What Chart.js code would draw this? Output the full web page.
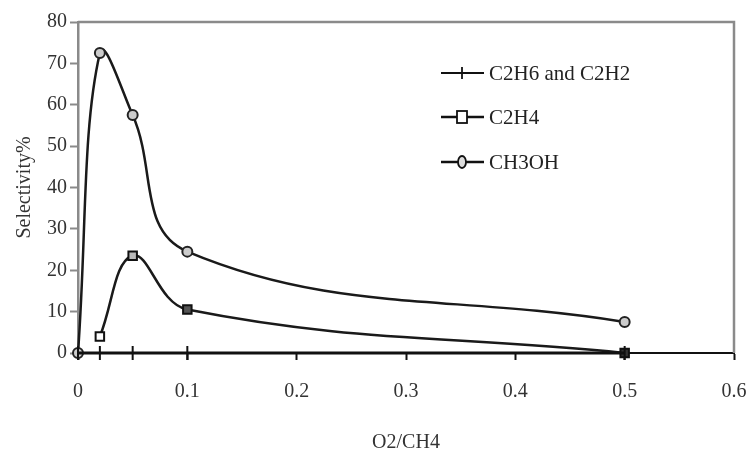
<!DOCTYPE html>
<html lang="en">
<head>
  <meta charset="UTF-8" />
  <title>Selectivity vs O2/CH4</title>
  <script src="https://cdn.jsdelivr.net/npm/chart.js"></script>
  <style>
    html, body { margin: 0; padding: 0; background: #fff; }
    .chart-container { width: 751px; height: 455px; }
  </style>
</head>
<body>
  <div class="chart-container">
    <canvas id="graficoSeletividade"></canvas>
  </div>

  <script>
    // dados
    const razaoO2CH4 = [0, 0.02, 0.05, 0.1, 0.5];
    const selC2H6C2H2 = [0, 0, 0, 0, 0];
    const selC2H4 = [null, 4, 23.5, 10.5, 0];
    const selCH3OH = [0, 72.5, 57.5, 24.5, 7.5];
    const rotulos = ["C2H6 and C2H2", "C2H4", "CH3OH"];

    const fonteSerif = "'Liberation Serif', 'DejaVu Serif', serif";

    function pontos(valores) {
      return razaoO2CH4.map(function (x, i) {
        return { x: x, y: valores[i] };
      });
    }

    // moldura cinza em volta da area do grafico
    const moldura = {
      id: "moldura",
      beforeDatasetsDraw(chart) {
        const { ctx, chartArea } = chart;
        ctx.save();
        ctx.strokeStyle = "#8a8a8a";
        ctx.lineWidth = 2.5;
        ctx.beginPath();
        ctx.moveTo(chartArea.left, chartArea.top);
        ctx.lineTo(chartArea.right, chartArea.top);
        ctx.lineTo(chartArea.right, chartArea.bottom);
        ctx.stroke();
        ctx.restore();
      },
    };

    // legenda no estilo linha-marcador-linha
    const legenda = {
      id: "legenda",
      afterDraw(chart) {
        const { ctx } = chart;
        const linhas = [73, 117, 162];
        ctx.save();
        chart.data.datasets.forEach(function (ds, i) {
          const y = linhas[i];
          ctx.strokeStyle = "#111";
          ctx.lineWidth = i === 0 ? 1.8 : 2.6;
          ctx.beginPath();
          ctx.moveTo(441, y);
          ctx.lineTo(484, y);
          ctx.stroke();
          ctx.lineWidth = 1.8;
          if (i === 0) {
            ctx.beginPath();
            ctx.moveTo(462, y - 6);
            ctx.lineTo(462, y + 6);
            ctx.stroke();
          } else if (i === 1) {
            ctx.fillStyle = "#fff";
            ctx.fillRect(457, y - 6, 10, 12);
            ctx.strokeRect(457, y - 6, 10, 12);
          } else {
            ctx.fillStyle = "#ddd";
            ctx.beginPath();
            ctx.ellipse(462, y, 4, 6, 0, 0, Math.PI * 2);
            ctx.fill();
            ctx.stroke();
          }
          ctx.fillStyle = "#222";
          ctx.font = "21px " + fonteSerif;
          ctx.textBaseline = "middle";
          ctx.fillText(ds.label, 489, y + 1);
        });
        ctx.restore();
      },
    };

    const ctxSel = document.getElementById("graficoSeletividade").getContext("2d");

    const graficoSeletividade = new Chart(ctxSel, {
      type: "line",
      data: {
        datasets: [
          {
            label: rotulos[0],
            data: pontos(selC2H6C2H2),
            borderColor: "#111",
            borderWidth: 3,
            tension: 0,
            pointStyle: "line",
            rotation: 90,
            pointRadius: 7,
            pointBorderWidth: 2,
            pointBorderColor: "#111",
            clip: false,
          },
          {
            label: rotulos[1],
            data: pontos(selC2H4),
            borderColor: "#1a1a1a",
            borderWidth: 2.5,
            tension: 0.4,
            pointStyle: "rect",
            pointRadius: 6,
            pointBorderWidth: 2,
            pointBackgroundColor: ["#fff", "#fff", "#bbb", "#555", "#333"],
            pointBorderColor: "#111",
            spanGaps: false,
            clip: false,
          },
          {
            label: rotulos[2],
            data: pontos(selCH3OH),
            borderColor: "#1a1a1a",
            borderWidth: 2.5,
            tension: 0.4,
            pointStyle: "circle",
            pointRadius: 5,
            pointBorderWidth: 2,
            pointBackgroundColor: "#ccc",
            pointBorderColor: "#222",
            clip: false,
          },
        ],
      },
      plugins: [moldura, legenda],
      options: {
        responsive: true,
        maintainAspectRatio: false,
        animation: false,
        layout: { padding: { top: 22, right: 17, left: 0, bottom: 0 } },
        plugins: {
          legend: { display: false },
          tooltip: { enabled: false },
        },
        scales: {
          x: {
            type: "linear",
            min: 0,
            max: 0.6,
            ticks: {
              stepSize: 0.1,
              padding: 20,
              color: "#333",
              font: { family: fonteSerif, size: 20 },
              callback: function (v) { return Math.round(v * 10) / 10; },
            },
            grid: {
              drawOnChartArea: false,
              drawTicks: true,
              tickLength: 7,
              color: "#111",
              tickWidth: 2,
            },
            border: { color: "#111", width: 2 },
            title: {
              display: true,
              text: "O2/CH4",
              color: "#333",
              font: { family: fonteSerif, size: 20 },
              padding: { top: 0, bottom: 0 },
            },
            afterFit: function (scale) {
              scale.height = 102;
              scale.paddingLeft = 0;
              scale.paddingRight = 0;
            },
          },
          y: {
            min: 0,
            max: 80,
            ticks: {
              stepSize: 10,
              padding: 3,
              color: "#333",
              font: { family: fonteSerif, size: 20 },
            },
            grid: {
              drawOnChartArea: false,
              drawTicks: true,
              tickLength: 8,
              color: "#8a8a8a",
              tickWidth: 2,
            },
            border: { color: "#8a8a8a", width: 2.5 },
            title: {
              display: true,
              text: "Selectivity%",
              color: "#333",
              font: { family: fonteSerif, size: 20 },
              padding: { top: 13, bottom: 0 },
            },
            afterFit: function (scale) {
              scale.width = 78;
              scale.paddingTop = 0;
              scale.paddingBottom = 0;
            },
          },
        },
      },
    });
  </script>
</body>
</html>
